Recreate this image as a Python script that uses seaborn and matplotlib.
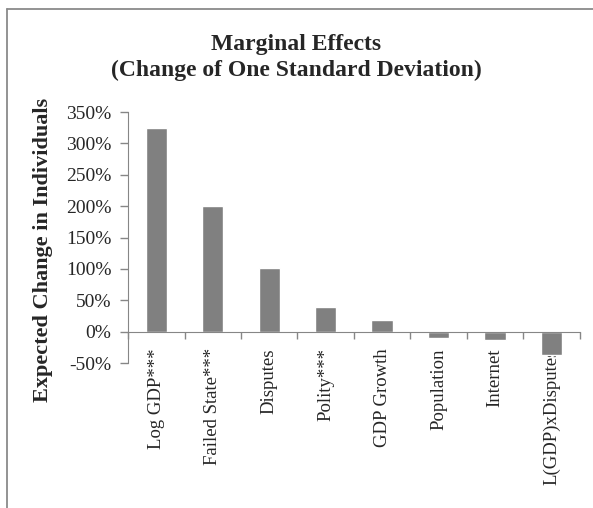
import matplotlib
matplotlib.use("Agg")
import matplotlib.pyplot as plt
import matplotlib.ticker as mticker
from matplotlib.lines import Line2D
import seaborn as sns
import pandas as pd
import numpy as np

sns.set_style("white")
plt.rcParams["font.family"] = ["Liberation Serif", "DejaVu Serif"]

categories = ["Log GDP***", "Failed State***", "Disputes", "Polity***",
              "GDP Growth", "Population", "Internet", "L(GDP)xDisputes"]
effects = [3.25, 2.01, 1.01, 0.40, 0.19, -0.10, -0.13, -0.37]
y_ticks = [-0.5, 0, 0.5, 1.0, 1.5, 2.0, 2.5, 3.0, 3.5]

df = pd.DataFrame({"variable": categories, "effect": effects})

fig = plt.figure(figsize=(5.93, 5.08), dpi=100)
ax = fig.add_axes([0.2159, 0.2854, 0.762, 0.494])

sns.barplot(data=df, x="variable", y="effect", color="#808080",
            saturation=1, width=0.38, ax=ax)

grey = "#868686"
ax.set_xlim(-0.5, len(categories) - 0.5)
ax.set_ylim(-0.5, 3.5)
ax.set_yticks(y_ticks)
ax.yaxis.set_major_formatter(mticker.FuncFormatter(lambda v, p: f"{v*100:.0f}%"))
ax.tick_params(axis="y", length=6, color=grey, width=1, labelsize=14, pad=6,
               left=True)

ax.spines["top"].set_visible(False)
ax.spines["right"].set_visible(False)
ax.spines["left"].set_color(grey)
ax.spines["bottom"].set_color(grey)
ax.spines["bottom"].set_position(("data", 0))

ax.set_xticks(np.arange(len(categories)))
ax.set_xticklabels(categories, rotation=90, fontsize=13.5, va="top")
ax.tick_params(axis="x", which="major", length=0, pad=12)
ax.set_xticks(np.arange(len(categories) + 1) - 0.5, minor=True)
ax.tick_params(axis="x", which="minor", length=5, color=grey, width=1,
               bottom=True)

ax.set_xlabel("")
ax.set_ylabel("")
fig.text(43 / 593, 1 - 250 / 508, "Expected Change in Individuals",
         rotation=90, ha="center", va="center", fontsize=16,
         fontweight="bold")

fig.text(0.5, 0.887, "Marginal Effects\n(Change of One Standard Deviation)",
         ha="center", va="center", fontsize=17, fontweight="bold",
         linespacing=1.3)

# chart area border (top and left edges only are visible)
fig.add_artist(Line2D([7 / 593, 1], [1 - 9 / 508, 1 - 9 / 508],
                      color="#8a8a8a", lw=1.3, transform=fig.transFigure))
fig.add_artist(Line2D([7 / 593, 7 / 593], [0, 1 - 9 / 508],
                      color="#8a8a8a", lw=1.3, transform=fig.transFigure))

fig.savefig("out.png", dpi=100)
